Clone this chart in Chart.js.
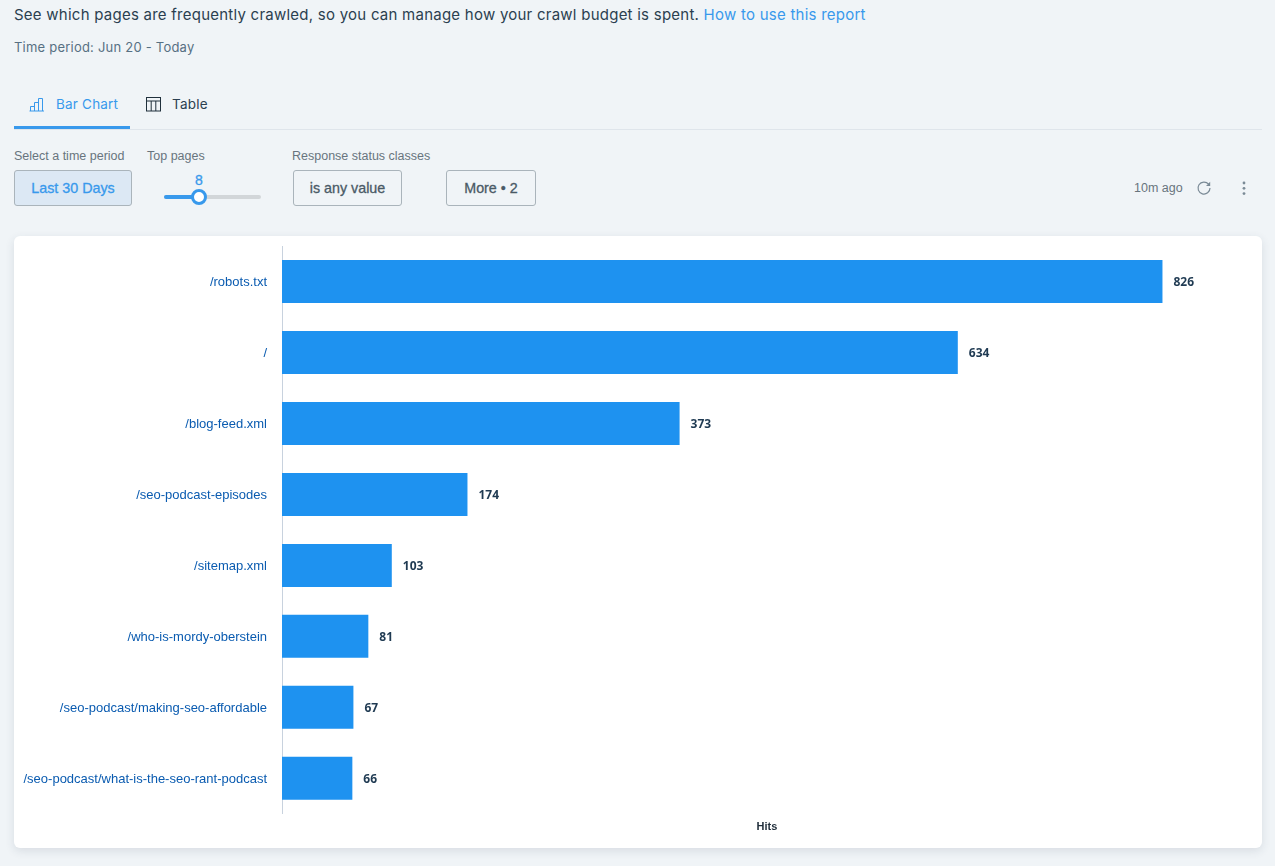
<!DOCTYPE html>
<html>
<head>
<meta charset="utf-8">
<title>Crawl stats</title>
<script src="https://cdn.jsdelivr.net/npm/chart.js@4"></script>
<style>
  html, body { margin: 0; padding: 0; }
  body { width: 1275px; height: 866px; background: #f0f4f7; position: relative; overflow: hidden; font-family: "Inter", sans-serif; color: #2b3f50; }
  .abs { position: absolute; white-space: nowrap; }
  .intro { left: 14px; top: 5px; font-size: 15px; line-height: 20px; letter-spacing: 0.245px; color: #2b3f50; }
  .intro a { color: #3899ec; text-decoration: none; }
  .period { left: 14px; top: 39px; font-size: 13px; line-height: 17px; letter-spacing: 0.22px; color: #577083; }
  .tab { top: 96px; font-size: 13.5px; line-height: 17px; letter-spacing: 0.2px; }
  .rule { left: 14px; top: 129px; width: 1248px; height: 1px; background: #dfe5eb; }
  .tab-line { left: 14px; top: 126px; width: 116px; height: 3px; background: #3899ec; }
  .label { top: 149px; font-family: "Liberation Sans", sans-serif; font-size: 12.5px; line-height: 14px; color: #68747e; }
  .btn { box-sizing: border-box; top: 170px; height: 36px; border: 1px solid #aab4bb; border-radius: 3px; text-align: center; line-height: 34px; font-family: "Liberation Sans", sans-serif; font-size: 14.3px; font-weight: 500; color: #4a5a66; -webkit-text-stroke: 0.3px; }
  .btn.on { background: #dce8f4; color: #3899ec; }
  .track { left: 164px; top: 195px; width: 97px; height: 4px; border-radius: 2px; background: #d2d6d9; }
  .fill { left: 164px; top: 195px; width: 35px; height: 4px; border-radius: 2px; background: #3899ec; }
  .knob { box-sizing: border-box; left: 191px; top: 189px; width: 16px; height: 16px; border-radius: 50%; background: #fff; border: 3px solid #3899ec; }
  .knob-value { left: 164px; width: 70px; text-align: center; top: 172px; font-family: "Liberation Sans", sans-serif; font-size: 14px; line-height: 16px; font-weight: 500; color: #3899ec; -webkit-text-stroke: 0.3px; }
  .ago { left: 1134px; top: 181px; font-family: "Liberation Sans", sans-serif; font-size: 12.5px; line-height: 14px; color: #68747e; }
  .card { left: 14px; top: 236px; width: 1248px; height: 612px; background: #fff; border-radius: 6px; box-shadow: 0 3px 10px rgba(40, 60, 80, 0.12); }
  .card canvas { position: absolute; left: 0; top: 0; }
</style>
</head>
<body>
  <div class="abs intro">See which pages are frequently crawled, so you can manage how your crawl budget is spent. <a href="#">How to use this report</a></div>
  <div class="abs period">Time period: Jun 20 - Today</div>

  <svg class="abs" style="left:29px;top:97px" width="16" height="15" viewBox="0 0 16 15" fill="none" stroke="#3899ec" stroke-width="1">
    <path d="M1.5 14V9.5H5.5V14M5.5 14V5.5H9.5V14M9.5 14V1.5H13.5V14M0.5 14H15"/>
  </svg>
  <div class="abs tab" style="left:56px;color:#3899ec">Bar Chart</div>
  <svg class="abs" style="left:146px;top:97px" width="16" height="15" viewBox="0 0 16 15" fill="none" stroke="#20303c" stroke-width="1">
    <rect x="0.5" y="0.5" width="14" height="13.5"/>
    <path d="M0.5 4H14.5M5.2 4V14M9.8 4V14"/>
  </svg>
  <div class="abs tab" style="left:172px;color:#2b3f50">Table</div>
  <div class="abs rule"></div>
  <div class="abs tab-line"></div>

  <div class="abs label" style="left:14px">Select a time period</div>
  <div class="abs label" style="left:147px">Top pages</div>
  <div class="abs label" style="left:292px">Response status classes</div>

  <div class="abs btn on" style="left:14px;width:118px">Last 30 Days</div>
  <div class="abs track"></div>
  <div class="abs fill"></div>
  <div class="abs knob"></div>
  <div class="abs knob-value">8</div>
  <div class="abs btn" style="left:293px;width:109px">is any value</div>
  <div class="abs btn" style="left:446px;width:90px">More • 2</div>

  <div class="abs ago">10m ago</div>
  <svg class="abs" style="left:1196px;top:180px" width="16" height="16" viewBox="0 0 16 16" fill="none">
    <path d="M12.6 4.2A6 6 0 1 0 14 8" stroke="#7a8a96" stroke-width="1.2"/>
    <path d="M14.2 1.8V6H10Z" fill="#7a8a96"/>
  </svg>
  <svg class="abs" style="left:1241px;top:181px" width="6" height="15" viewBox="0 0 6 15" fill="#7a8a96">
    <circle cx="3" cy="2" r="1.4"/><circle cx="3" cy="7.3" r="1.4"/><circle cx="3" cy="12.6" r="1.4"/>
  </svg>

  <div class="abs card"><canvas id="pagesChart" width="1248" height="612"></canvas></div>

<script>
const pages = [
  '/robots.txt',
  '/',
  '/blog-feed.xml',
  '/seo-podcast-episodes',
  '/sitemap.xml',
  '/who-is-mordy-oberstein',
  '/seo-podcast/making-seo-affordable',
  '/seo-podcast/what-is-the-seo-rant-podcast'
];
const hits = [826, 634, 373, 174, 103, 81, 67, 66];

// Chart.js has no data labels without a plugin, so draw the numbers next to the bars
const valueLabels = {
  id: 'valueLabels',
  afterDatasetsDraw(chart) {
    const ctx = chart.ctx;
    ctx.save();
    ctx.font = 'bold 12px "Open Sans", sans-serif';
    ctx.fillStyle = '#1f3a52';
    ctx.textAlign = 'left';
    ctx.textBaseline = 'middle';
    chart.getDatasetMeta(0).data.forEach((bar, i) => {
      ctx.fillText(hits[i], bar.x + 11, bar.y + 1);
    });
    ctx.restore();
  }
};

new Chart(document.getElementById('pagesChart').getContext('2d'), {
  type: 'bar',
  data: {
    labels: pages,
    datasets: [{
      data: hits,
      backgroundColor: '#1e92f0',
      categoryPercentage: 1,
      barPercentage: 0.606
    }]
  },
  options: {
    indexAxis: 'y',
    responsive: false,
    animation: false,
    layout: { padding: { top: 10, right: 10, bottom: 0, left: 0 } },
    plugins: { legend: { display: false }, tooltip: { enabled: false } },
    scales: {
      x: {
        min: 0,
        max: 910,
        grid: { display: false, drawTicks: false },
        border: { display: false },
        ticks: { display: false },
        title: {
          display: true,
          text: 'Hits',
          color: '#1f2d3a',
          font: { family: '"Liberation Sans", sans-serif', size: 11, weight: 'bold' },
          padding: { top: 7, bottom: 14 }
        }
      },
      y: {
        afterFit(scale) {
          scale.width = 268;
          // keep the plot flush with the layout padding
          scale.paddingTop = 0;
          scale.paddingBottom = 0;
        },
        grid: { display: false },
        border: { display: true, color: '#c8d2de', width: 1 },
        ticks: {
          color: '#0a5bb0',
          padding: 7,
          labelOffset: 1,
          autoSkip: false,
          font: { family: '"Liberation Sans", sans-serif', size: 13 }
        }
      }
    }
  },
  plugins: [valueLabels]
});
</script>
</body>
</html>
